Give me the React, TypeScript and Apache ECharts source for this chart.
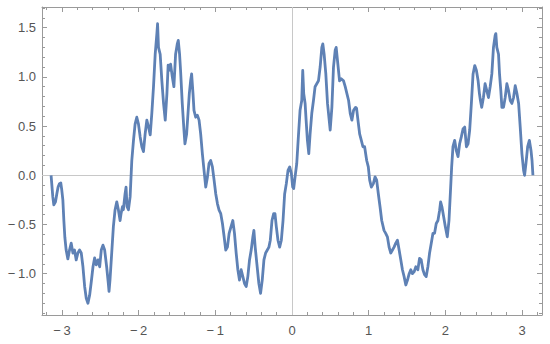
import React, { useEffect, useRef } from "react";
import * as echarts from "echarts";

// Curve samples [x, y], left to right
const segA: number[][] = [
  [-3.1416, 0], [-3.119, -0.22], [-3.106, -0.30], [-3.084, -0.27], [-3.067, -0.19], [-3.050, -0.12],
  [-3.032, -0.085], [-3.015, -0.078], [-3.002, -0.15], [-2.988, -0.25], [-2.975, -0.46], [-2.962, -0.63],
  [-2.945, -0.76], [-2.923, -0.85], [-2.901, -0.76], [-2.879, -0.69], [-2.857, -0.79], [-2.836, -0.76],
  [-2.814, -0.86], [-2.792, -0.79], [-2.770, -0.76], [-2.748, -0.79], [-2.726, -0.93], [-2.704, -1.13],
  [-2.683, -1.25], [-2.661, -1.30], [-2.639, -1.22], [-2.617, -1.08], [-2.595, -0.93], [-2.574, -0.84],
  [-2.552, -0.91], [-2.530, -0.86], [-2.508, -0.93], [-2.487, -0.76], [-2.465, -0.71], [-2.443, -0.76],
];
const segB: number[][] = [
  [-2.417, -0.93], [-2.395, -1.10], [-2.386, -1.18], [-2.373, -1.06], [-2.351, -0.79], [-2.329, -0.52],
  [-2.307, -0.35], [-2.285, -0.27], [-2.264, -0.35], [-2.242, -0.46], [-2.229, -0.39], [-2.211, -0.32],
  [-2.199, -0.35], [-2.177, -0.19], [-2.164, -0.12], [-2.151, -0.32], [-2.133, -0.35], [-2.111, -0.22],
  [-2.089, 0.15], [-2.067, 0.355], [-2.046, 0.52], [-2.024, 0.59], [-2.002, 0.52], [-1.980, 0.39],
  [-1.958, 0.29], [-1.937, 0.24], [-1.915, 0.42], [-1.893, 0.56], [-1.871, 0.49], [-1.849, 0.41],
  [-1.828, 0.63], [-1.806, 0.90], [-1.784, 1.23], [-1.762, 1.44], [-1.753, 1.54], [-1.741, 1.30],
  [-1.719, 1.23], [-1.697, 0.96], [-1.675, 0.73], [-1.653, 0.56], [-1.631, 0.83], [-1.615, 1.12],
];
const segC: number[][] = [
  [-1.605, 1.065], [-1.583, 1.13], [-1.561, 1.00], [-1.540, 0.90], [-1.518, 1.23], [-1.496, 1.335],
  [-1.483, 1.37], [-1.466, 1.23], [-1.453, 1.065], [-1.431, 0.73], [-1.409, 0.46], [-1.396, 0.32],
  [-1.374, 0.42], [-1.356, 0.63], [-1.339, 0.83], [-1.322, 0.96], [-1.309, 1.03], [-1.291, 0.83],
  [-1.278, 0.66], [-1.256, 0.59], [-1.234, 0.61], [-1.212, 0.56], [-1.191, 0.42], [-1.169, 0.22],
  [-1.147, 0.05], [-1.125, -0.12], [-1.103, -0.02], [-1.082, 0.12], [-1.060, 0.15], [-1.038, 0.085],
  [-1.016, -0.05], [-0.994, -0.19], [-0.972, -0.29], [-0.951, -0.355], [-0.929, -0.39], [-0.907, -0.49],
  [-0.885, -0.625], [-0.864, -0.76], [-0.842, -0.73], [-0.820, -0.59],
];
const segD: number[][] = [
  [-0.794, -0.52], [-0.772, -0.46], [-0.750, -0.59], [-0.728, -0.79], [-0.706, -0.96], [-0.685, -1.065],
  [-0.663, -0.96], [-0.641, -1.03], [-0.619, -1.10], [-0.597, -1.13], [-0.576, -1.03], [-0.554, -0.86],
  [-0.532, -0.76], [-0.510, -0.625], [-0.497, -0.56], [-0.480, -0.73], [-0.458, -0.90], [-0.432, -1.10],
  [-0.410, -1.20], [-0.388, -1.065], [-0.366, -0.86], [-0.344, -0.79], [-0.322, -0.76], [-0.301, -0.73],
  [-0.283, -0.66], [-0.261, -0.46], [-0.239, -0.39], [-0.222, -0.39], [-0.205, -0.52], [-0.183, -0.66],
  [-0.161, -0.73], [-0.139, -0.66], [-0.117, -0.46], [-0.096, -0.19], [-0.074, -0.085], [-0.052, 0.05],
  [-0.030, 0.085], [-0.008, 0.017],
];
const segE: number[][] = [
  [0.009, -0.12], [0.022, -0.135], [0.040, -0.017], [0.062, 0.12], [0.083, 0.39], [0.105, 0.66],
  [0.127, 0.76], [0.140, 1.065], [0.153, 0.83], [0.171, 0.73], [0.184, 0.56], [0.201, 0.355],
  [0.219, 0.22], [0.236, 0.42], [0.258, 0.63], [0.280, 0.76], [0.301, 0.90], [0.323, 0.93],
  [0.345, 0.96], [0.367, 1.10], [0.389, 1.30], [0.402, 1.335], [0.419, 1.23], [0.441, 1.03],
  [0.463, 0.73], [0.485, 0.56], [0.498, 0.46], [0.520, 0.69], [0.541, 1.10], [0.563, 1.27],
  [0.576, 1.30], [0.598, 1.13], [0.620, 0.96], [0.642, 0.98], [0.672, 0.96], [0.694, 0.90],
  [0.716, 0.83], [0.738, 0.76], [0.760, 0.625], [0.781, 0.56], [0.803, 0.66],
];
const segF: number[][] = [
  [0.829, 0.69], [0.842, 0.68], [0.860, 0.56], [0.882, 0.42], [0.904, 0.355], [0.925, 0.29],
  [0.947, 0.29], [0.974, 0.15], [0.995, 0.085], [1.013, -0.05], [1.035, -0.12], [1.061, -0.085],
  [1.083, -0.017], [1.104, -0.05], [1.126, -0.19], [1.148, -0.32], [1.170, -0.46], [1.200, -0.56],
  [1.222, -0.59], [1.244, -0.625], [1.266, -0.73], [1.288, -0.79], [1.310, -0.76], [1.331, -0.73],
  [1.353, -0.69], [1.375, -0.66], [1.397, -0.76], [1.419, -0.86], [1.440, -0.96], [1.462, -1.03],
  [1.484, -1.115], [1.506, -1.065], [1.528, -1.00], [1.549, -0.96], [1.571, -1.00], [1.593, -0.98],
  [1.615, -0.93],
];
const segG: number[][] = [
  [1.641, -0.96], [1.663, -0.845], [1.685, -0.86], [1.707, -0.96], [1.728, -1.01], [1.750, -1.03],
  [1.772, -0.93], [1.794, -0.79], [1.816, -0.69], [1.838, -0.59], [1.859, -0.59], [1.881, -0.49],
  [1.903, -0.46], [1.925, -0.355], [1.938, -0.27], [1.955, -0.32], [1.977, -0.42], [1.999, -0.52],
  [2.025, -0.625], [2.047, -0.46], [2.069, -0.12], [2.082, 0.085], [2.099, 0.29], [2.121, 0.355],
  [2.143, 0.25], [2.165, 0.19], [2.186, 0.32], [2.208, 0.39], [2.230, 0.47], [2.252, 0.49],
  [2.274, 0.29], [2.296, 0.32], [2.317, 0.46], [2.339, 0.73], [2.361, 1.03], [2.383, 1.115],
  [2.405, 1.065], [2.427, 0.96],
];
const segH: number[][] = [
  [2.444, 0.83], [2.457, 0.76], [2.474, 0.69], [2.496, 0.79], [2.518, 0.93], [2.540, 0.86],
  [2.562, 0.79], [2.584, 0.90], [2.606, 1.03], [2.627, 1.30], [2.649, 1.42], [2.658, 1.44],
  [2.671, 1.30], [2.693, 1.23], [2.706, 1.03], [2.723, 0.86], [2.737, 0.69], [2.758, 0.69],
  [2.780, 0.79], [2.802, 0.93], [2.824, 0.86], [2.846, 0.76], [2.867, 0.73], [2.889, 0.79],
  [2.911, 0.91], [2.933, 0.83], [2.955, 0.73], [2.976, 0.49], [2.998, 0.22], [3.020, 0.05],
  [3.033, 0.0], [3.051, 0.12], [3.073, 0.29], [3.095, 0.355], [3.117, 0.25], [3.130, 0.15],
  [3.1416, 0.0],
];

const xMajorTicks = [-3, -2, -1, 0, 1, 2, 3];
const yMajorTicks = [-1.0, -0.5, 0.0, 0.5, 1.0, 1.5];

const X_MIN = -3.26;
const X_MAX = 3.26;
const Y_MIN = -1.42;
const Y_MAX = 1.71;

function minorList(lo: number, hi: number, step: number, majorStep: number): number[] {
  const out: number[] = [];
  const n0 = Math.ceil(lo / step - 1e-9);
  const n1 = Math.floor(hi / step + 1e-9);
  for (let i = n0; i <= n1; i++) {
    const v = +(i * step).toFixed(4);
    const r = Math.abs(v / majorStep - Math.round(v / majorStep));
    if (r > 1e-6) out.push(v);
  }
  return out;
}

export default function App() {
  const ref = useRef<HTMLDivElement>(null);
  useEffect(() => {
    if (!ref.current) return;
    const chart = echarts.init(ref.current, undefined, { renderer: "svg" });
    const frame = "#9a9a9a";
    const labelColor = "#555555";
    const fmtMinus = (s: string) => s.replace("-", "\u2212\u2009");
    const xMinor = minorList(X_MIN, X_MAX, 0.2, 1);
    const yMinor = minorList(Y_MIN, Y_MAX, 0.1, 0.5);
    const data = [...segA, ...segB, ...segC, ...segD, ...segE, ...segF, ...segG, ...segH];

    const xBase = { type: "value", min: X_MIN, max: X_MAX, splitLine: { show: false } };
    const yBase = { type: "value", min: Y_MIN, max: Y_MAX, splitLine: { show: false } };
    const lineOn = { show: true, onZero: false, lineStyle: { color: frame, width: 1 } };
    const lineOff = { show: false, onZero: false };

    chart.setOption({
      animation: false,
      grid: { left: 42, right: 8, top: 7, bottom: 29, containLabel: false },
      xAxis: [
        {
          ...xBase, position: "bottom", axisLine: lineOn,
          axisTick: { show: true, inside: true, length: 5, customValues: xMajorTicks, lineStyle: { color: frame } },
          axisLabel: {
            show: true, customValues: xMajorTicks, margin: 9, color: labelColor, fontSize: 13,
            fontFamily: "Liberation Sans, Arial, sans-serif",
            formatter: (v: number) => fmtMinus(String(v)),
          },
        },
        {
          ...xBase, position: "bottom", axisLine: lineOff,
          axisTick: { show: true, inside: true, length: 3, customValues: xMinor, lineStyle: { color: frame } },
          axisLabel: { show: false },
        },
        {
          ...xBase, position: "top", axisLine: lineOn,
          axisTick: { show: true, inside: true, length: 5, customValues: xMajorTicks, lineStyle: { color: frame } },
          axisLabel: { show: false },
        },
        {
          ...xBase, position: "top", axisLine: lineOff,
          axisTick: { show: true, inside: true, length: 3, customValues: xMinor, lineStyle: { color: frame } },
          axisLabel: { show: false },
        },
      ],
      yAxis: [
        {
          ...yBase, position: "left", axisLine: lineOn,
          axisTick: { show: true, inside: true, length: 5, customValues: yMajorTicks, lineStyle: { color: frame } },
          axisLabel: {
            show: true, customValues: yMajorTicks, margin: 6, color: labelColor, fontSize: 13,
            fontFamily: "Liberation Sans, Arial, sans-serif",
            formatter: (v: number) => fmtMinus(v.toFixed(1)),
          },
        },
        {
          ...yBase, position: "left", axisLine: lineOff,
          axisTick: { show: true, inside: true, length: 3, customValues: yMinor, lineStyle: { color: frame } },
          axisLabel: { show: false },
        },
        {
          ...yBase, position: "right", axisLine: lineOn,
          axisTick: { show: true, inside: true, length: 5, customValues: yMajorTicks, lineStyle: { color: frame } },
          axisLabel: { show: false },
        },
        {
          ...yBase, position: "right", axisLine: lineOff,
          axisTick: { show: true, inside: true, length: 3, customValues: yMinor, lineStyle: { color: frame } },
          axisLabel: { show: false },
        },
      ],
      series: [
        {
          type: "line",
          xAxisIndex: 0,
          yAxisIndex: 0,
          data,
          showSymbol: false,
          symbol: "none",
          lineStyle: { color: "#5e81b5", width: 2.8, join: "round" },
          markLine: {
            silent: true,
            symbol: "none",
            label: { show: false },
            lineStyle: { color: "#c8c8c8", type: "solid", width: 1 },
            data: [{ xAxis: 0 }, { yAxis: 0 }],
            z: 1,
          },
          z: 3,
        },
      ],
    });
    return () => chart.dispose();
  }, []);
  return <div ref={ref} style={{ width: 550, height: 344, position: "absolute", left: 0, top: 0 }} />;
}
